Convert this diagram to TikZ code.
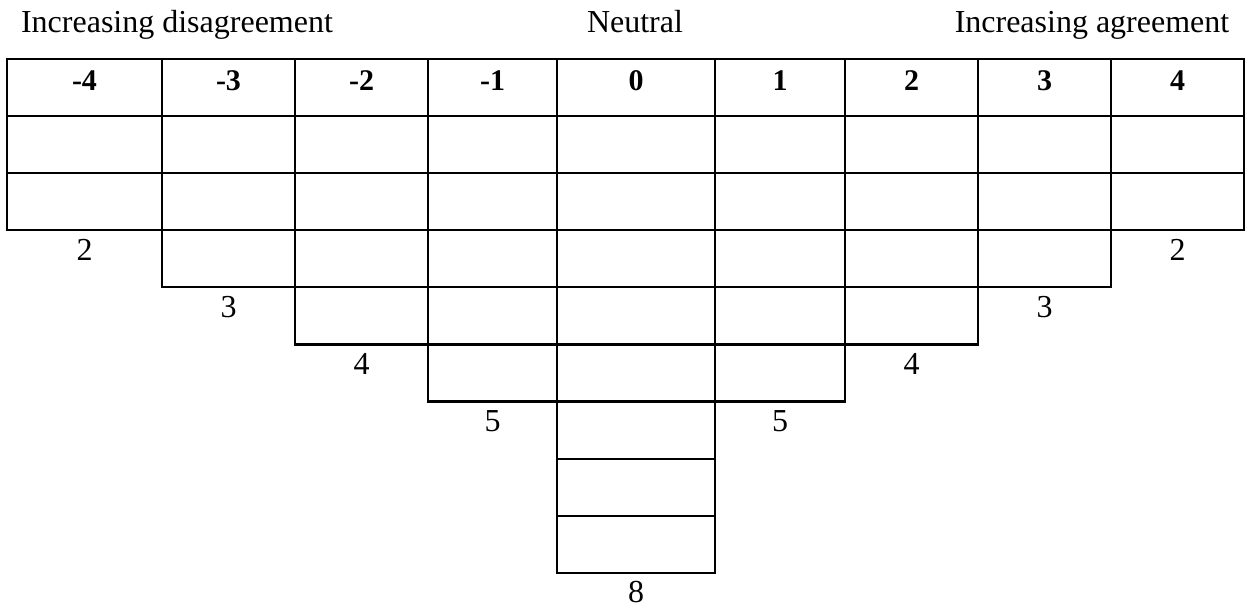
\documentclass[tikz,border=0pt]{standalone}
\usepackage{fontspec}
\setmainfont{Liberation Serif}
\usetikzlibrary{positioning}
\tikzset{
 cell/.style={draw=black, line width=1.1pt},
 headnum/.style={anchor=base, inner sep=0pt, font=\fontsize{15}{18}\selectfont\bfseries},
 countlab/.style={anchor=base, inner sep=0pt, font=\fontsize{16}{19}\selectfont},
 scalelab/.style={anchor=base, inner sep=0pt, font=\fontsize{16}{19}\selectfont}
}

\begin{document}
\begin{tikzpicture}[x=0.5pt,y=-0.5pt]
\useasboundingbox (0,0) rectangle (1246,613);
% scale ends
\node[scalelab] (disagree) at (177,33) {Increasing disagreement};
\node[scalelab] (neutral) at (635,33) {Neutral};
\node[scalelab] (agree) at (1092,33) {Increasing agreement};
% columns: left/right edge, score, number of cells
\foreach \xa/\xb/\sc/\nc [count=\i] in {7/162/-4/2,162/295/-3/3,295/428/-2/4,428/557/-1/5,557/715/0/8,715/845/1/5,845/978/2/4,978/1111/3/3,1111/1244/4/2}{
 \foreach \k in {0,...,\nc}{\draw[cell] (\xa,{59+57.1*\k}) rectangle (\xb,{59+57.1*(\k+1)});}
 \node[headnum] (score\i) at ({(\xa+\xb)/2},91) {\sc};
 \node[countlab] (count\i) at ({(\xa+\xb)/2},{59+57.1*(\nc+1)+30}) {\nc};
}
\end{tikzpicture}
\end{document}
